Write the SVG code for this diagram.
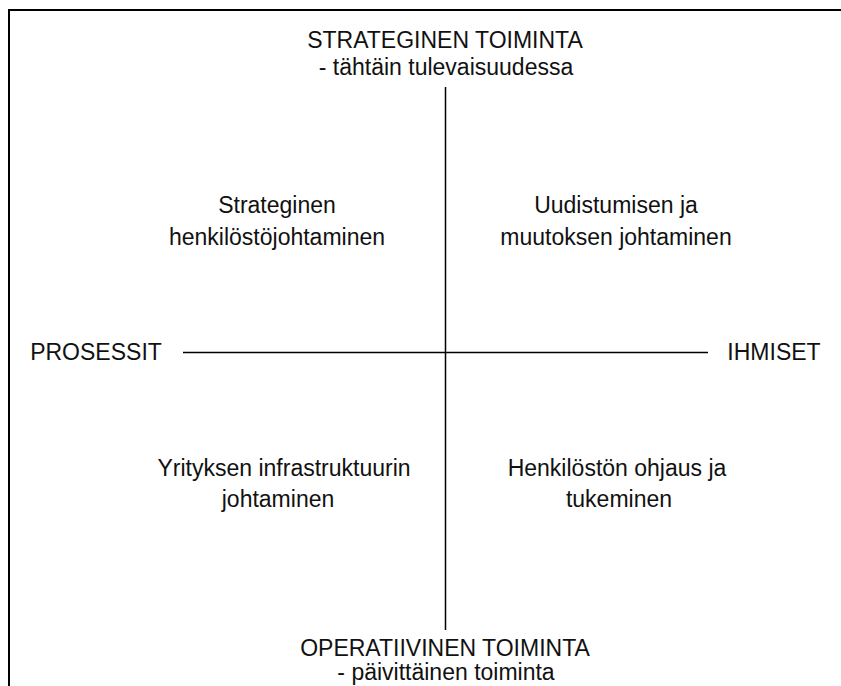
<svg xmlns="http://www.w3.org/2000/svg" width="841" height="686" viewBox="0 0 841 686">
<style>
.t{font-family:"Liberation Sans",Arial,sans-serif;font-size:23px;fill:#111;text-anchor:middle}
.ax{stroke:#000;stroke-width:1.5;fill:none}
</style>
<rect width="841" height="686" fill="#fff"/>
<path d="M9,686 V10 H841" fill="none" stroke="#000" stroke-width="2"/>
<g id="connectors">
<line class="ax" x1="445.5" y1="87" x2="445.5" y2="630"/>
<line class="ax" x1="183" y1="352.5" x2="708" y2="352.5"/>
</g>
<g id="top"><text class="t" x="445" y="48">STRATEGINEN TOIMINTA</text><text class="t" x="446" y="75">- tähtäin tulevaisuudessa</text></g>
<g id="bottom"><text class="t" x="445" y="656">OPERATIIVINEN TOIMINTA</text><text class="t" x="446" y="680">- päivittäinen toiminta</text></g>
<g id="left"><text class="t" x="96" y="360">PROSESSIT</text></g>
<g id="right"><text class="t" x="774" y="360">IHMISET</text></g>
<g id="q1"><text class="t" x="277" y="213">Strateginen</text><text class="t" x="277" y="245">henkilöstöjohtaminen</text></g>
<g id="q2"><text class="t" x="616" y="213">Uudistumisen ja</text><text class="t" x="616" y="245">muutoksen johtaminen</text></g>
<g id="q3"><text class="t" x="284" y="476">Yrityksen infrastruktuurin</text><text class="t" x="278" y="507">johtaminen</text></g>
<g id="q4"><text class="t" x="617" y="476">Henkilöstön ohjaus ja</text><text class="t" x="619" y="507">tukeminen</text></g>
</svg>
